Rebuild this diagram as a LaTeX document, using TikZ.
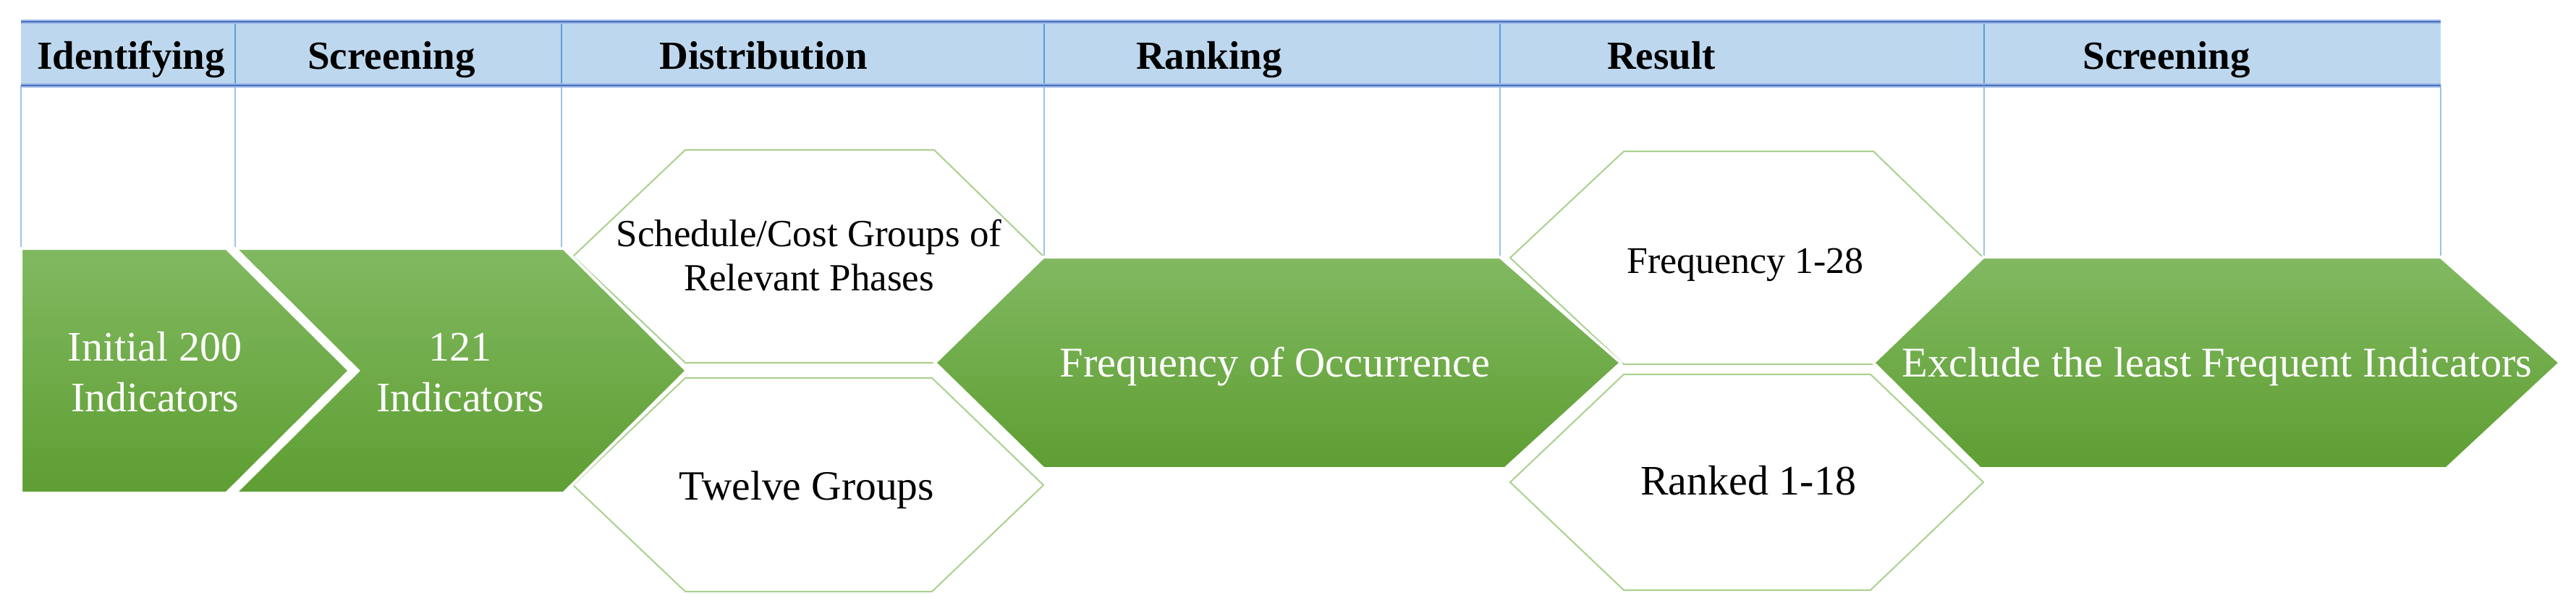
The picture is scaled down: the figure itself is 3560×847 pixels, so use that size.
\documentclass[tikz,border=0pt]{standalone}
\usepackage{fontspec}
\setmainfont{Liberation Serif}
\definecolor{gtop}{RGB}{129,185,97}
\definecolor{gbot}{RGB}{94,158,50}
\definecolor{hexline}{RGB}{169,209,142}
\definecolor{headfill}{RGB}{189,215,238}
\definecolor{headline}{RGB}{68,114,196}
\definecolor{headhalo}{RGB}{160,185,228}
\definecolor{coldiv}{RGB}{91,155,213}
\definecolor{bodyline}{RGB}{157,195,230}
\tikzset{
  greenshape/.style={top color=gtop, bottom color=gbot, draw=white, line width=4pt, line join=miter},
  whitehex/.style={fill=white, draw=hexline, line width=2pt, line join=miter},
  bodyrule/.style={draw=bodyline, line width=1.8pt},
  headrule/.style={draw=coldiv, line width=2pt},
  headtxt/.style={anchor=base, inner sep=0pt, font=\bfseries\fontsize{55}{66}\selectfont},
  greentxt/.style={anchor=base, inner sep=0pt, align=center, text=white},
  hextxt/.style={anchor=base, inner sep=0pt, align=center, text=black}
}
\begin{document}
\begin{tikzpicture}[x=1pt,y=-1pt]
\useasboundingbox (0,0) rectangle (3560,847);
% grid coordinates
\coordinate (L0) at (29,118);   \coordinate (L0b) at (29,343);
\coordinate (L1) at (325,118);  \coordinate (L1b) at (325,343);
\coordinate (L2) at (776,118);  \coordinate (L2b) at (776,343);
\coordinate (L3) at (1443,118); \coordinate (L3b) at (1443,355);
\coordinate (L4) at (2073,118); \coordinate (L4b) at (2073,355);
\coordinate (L5) at (2742,118); \coordinate (L5b) at (2742,355);
\coordinate (L6) at (3373,118); \coordinate (L6b) at (3373,355);
\foreach \i in {0,...,6} {\draw[bodyrule] (L\i) -- (L\i b);}
% white hexagons
\draw[whitehex] (792,354) -- (947,207) -- (1291,207) -- (1442,354) -- (1291,501) -- (947,501) -- cycle;
\draw[whitehex] (792,670) -- (947,522) -- (1288,522) -- (1442,670) -- (1288,817) -- (947,817) -- cycle;
\draw[whitehex] (2087,356) -- (2244,209) -- (2589,209) -- (2741,356) -- (2589,503) -- (2244,503) -- cycle;
\draw[whitehex] (2087,666) -- (2244,517) -- (2585,517) -- (2741,666) -- (2585,815) -- (2244,815) -- cycle;
% green shapes
\draw[greenshape] (29,343) -- (313,343) -- (483,512) -- (313,681) -- (29,681) -- cycle;
\draw[greenshape] (325,343) -- (779,343) -- (949,512) -- (779,681) -- (325,681) -- (495,512) -- cycle;
\draw[greenshape] (1292,501) -- (1442,355) -- (2073,355) -- (2240,501) -- (2080,647) -- (1442,647) -- cycle;
\draw[greenshape] (2589,501) -- (2741,355) -- (3373,355) -- (3538,501) -- (3381,647) -- (2736,647) -- cycle;
% header band
\fill[headfill] (29,30) rectangle (3373,118);
\coordinate (H0) at (325,30);  \coordinate (H0b) at (325,118);
\coordinate (H1) at (776,30);  \coordinate (H1b) at (776,118);
\coordinate (H2) at (1443,30); \coordinate (H2b) at (1443,118);
\coordinate (H3) at (2073,30); \coordinate (H3b) at (2073,118);
\coordinate (H4) at (2742,30); \coordinate (H4b) at (2742,118);
\foreach \i in {0,...,4} {\draw[headrule] (H\i) -- (H\i b);}
\coordinate (TL) at (29,30);  \coordinate (TR) at (3373,30);
\coordinate (BL) at (29,118); \coordinate (BR) at (3373,118);
\draw[headhalo, line width=6pt] (TL) -- (TR);
\draw[headhalo, line width=6pt] (BL) -- (BR);
\draw[headline, line width=2.5pt] (TL) -- (TR);
\draw[headline, line width=2.5pt] (BL) -- (BR);
% header labels
\node[headtxt] (h1) at (181,95) {Identifying};
\node[headtxt] (h2) at (541,95) {Screening};
\node[headtxt] (h3) at (1055,95) {Distribution};
\node[headtxt] (h4) at (1671,95) {Ranking};
\node[headtxt] (h5) at (2296,95) {Result};
\node[headtxt] (h6) at (2994,95) {Screening};
% body texts (base anchor = baseline of the last line)
\node[greentxt, font=\fontsize{58}{70}\selectfont] (t1) at (214,568) {Initial 200\\Indicators};
\node[greentxt, font=\fontsize{58}{70}\selectfont] (t2) at (636,568) {121\\Indicators};
\node[hextxt, font=\fontsize{53}{61}\selectfont] (t3) at (1118,401) {Schedule/Cost Groups of\\Relevant Phases};
\node[hextxt, font=\fontsize{57.5}{66}\selectfont] (t4) at (1115,690) {Twelve Groups};
\node[greentxt, font=\fontsize{58.5}{70}\selectfont] (t5) at (1762,520) {Frequency of Occurrence};
\node[hextxt, font=\fontsize{52}{62}\selectfont] (t6) at (2412,377) {Frequency 1-28};
\node[hextxt, font=\fontsize{58}{70}\selectfont] (t7) at (2416,683) {Ranked 1-18};
\node[greentxt, font=\fontsize{58.5}{70}\selectfont] (t8) at (3064,520) {Exclude the least Frequent Indicators};
\end{tikzpicture}
\end{document}
